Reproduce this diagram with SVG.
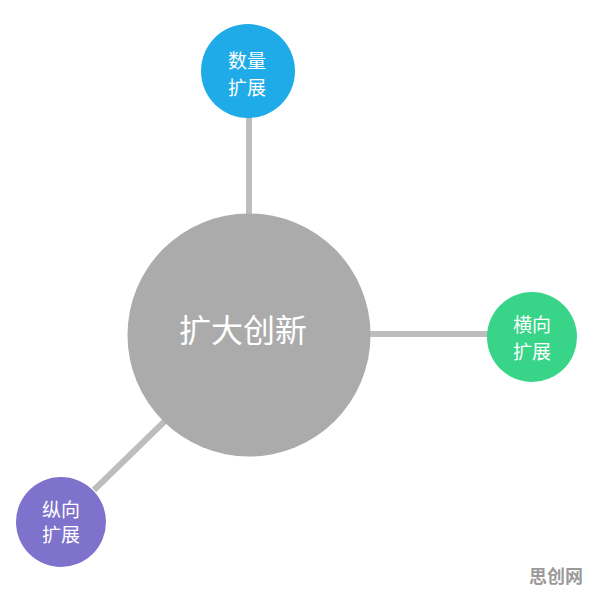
<svg xmlns="http://www.w3.org/2000/svg" width="596" height="595" viewBox="0 0 596 595">
<style>
.lbl{font-family:"Noto Sans CJK SC","Noto Sans",sans-serif;fill:#ffffff;text-anchor:middle;}
.small{font-size:19px;}
.big{font-size:32px;font-weight:400;}
.conn{stroke:#bdbdbd;stroke-width:6;fill:none;}
</style>
<rect width="596" height="595" fill="#ffffff"/>
<g id="connectors">
<line class="conn" x1="249" y1="115" x2="249" y2="215"/>
<line class="conn" x1="368" y1="334" x2="490" y2="334"/>
<line class="conn" x1="166" y1="420" x2="94" y2="490"/>
</g>
<g id="center">
<circle cx="249" cy="335" r="121.5" fill="#ababab"/>
<text class="lbl big" x="243" y="342">扩大创新</text>
</g>
<g id="top">
<circle cx="248" cy="71" r="47" fill="#1faae8"/>
<text class="lbl small" x="247" y="68">数量</text>
<text class="lbl small" x="247" y="95">扩展</text>
</g>
<g id="right">
<circle cx="532" cy="337" r="45" fill="#38d488"/>
<text class="lbl small" x="532" y="332">横向</text>
<text class="lbl small" x="532" y="359">扩展</text>
</g>
<g id="left">
<circle cx="61" cy="522" r="45" fill="#7e72cc"/>
<text class="lbl small" x="61" y="517">纵向</text>
<text class="lbl small" x="61" y="542">扩展</text>
</g>
<text x="556" y="583" font-family="Noto Sans CJK SC,sans-serif" font-size="18" font-weight="bold" fill="#9a9a9a" text-anchor="middle">思创网</text>
</svg>
